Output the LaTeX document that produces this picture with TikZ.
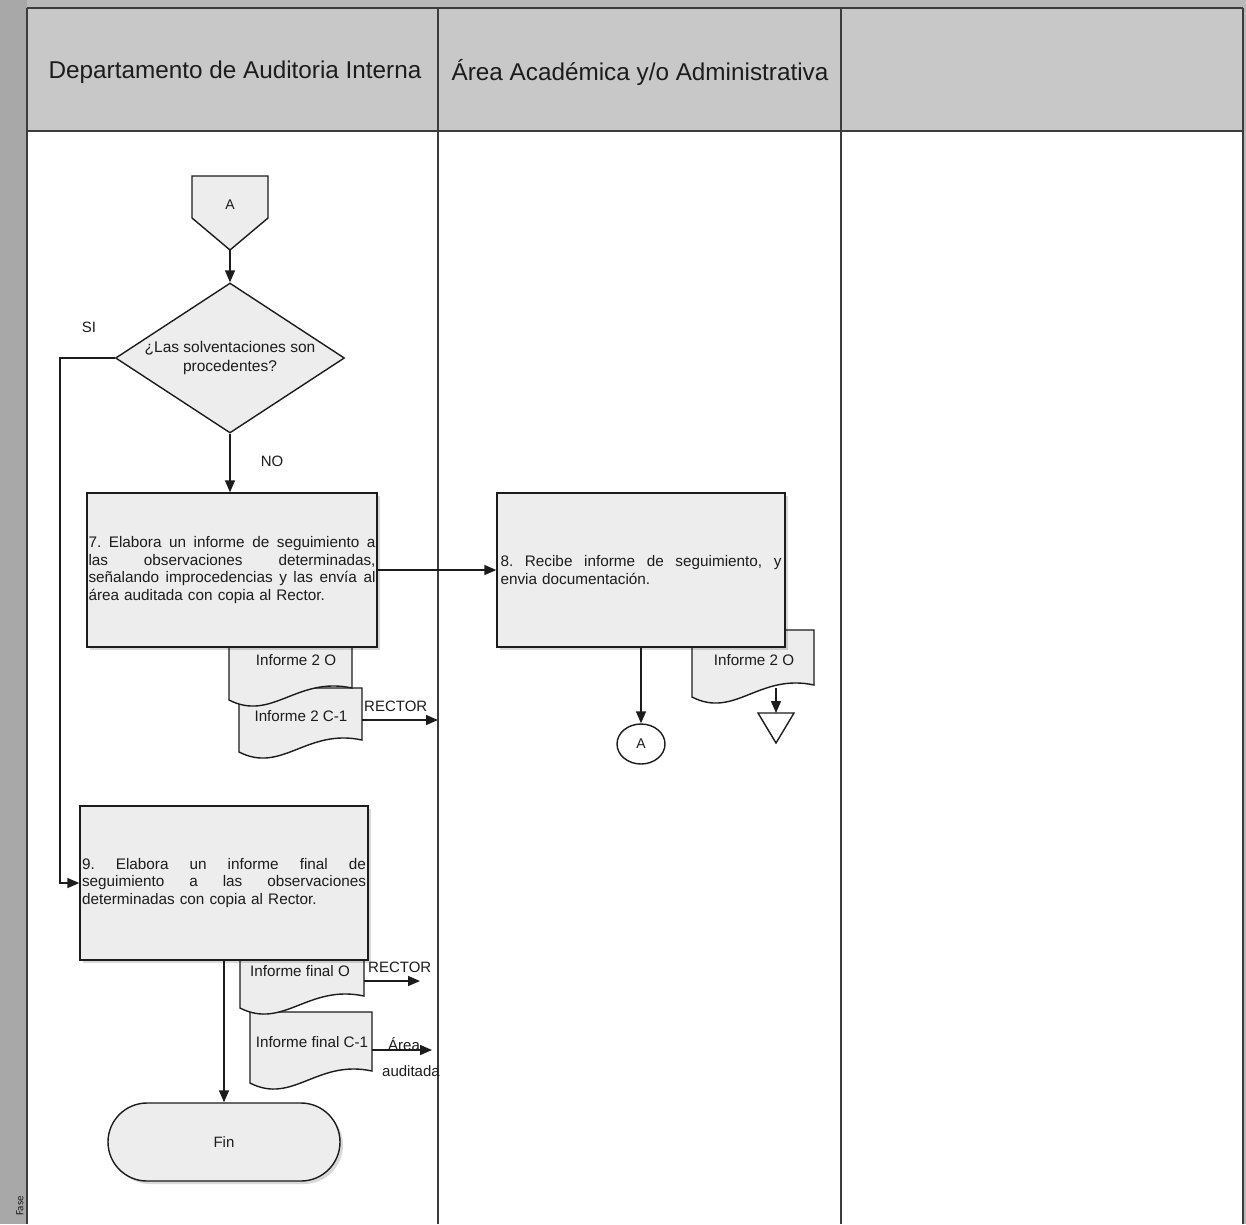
\documentclass[tikz,border=0pt]{standalone}
\usepackage{fontspec}
\setmainfont{Liberation Sans}
\newfontfamily\fasefont{Carlito}
\usetikzlibrary{arrows.meta,shapes.geometric,shadows}

\definecolor{hdrgray}{RGB}{201,200,200}
\definecolor{stripgray}{RGB}{168,168,168}
\definecolor{topgray}{RGB}{186,185,185}
\definecolor{shapefill}{RGB}{237,237,237}
\definecolor{ink}{RGB}{28,28,28}
\definecolor{gridink}{RGB}{60,60,60}

% one fully justified line of a step description, of the given width
\newcommand{\jline}[2]{\makebox[#1][s]{\spaceskip=0pt\xspaceskip=0pt\relax #2}}

% document symbol: flat top, wavy bottom (x1, x2, top, bottom at left end)
\newcommand{\docoutline}[4]{%
  \filldraw[docstyle] (#1,#3) -- (#2,#3) -- (#2,{#4-12})
    .. controls ({#1+0.55*(#2-#1)},{#4-24}) and ({#1+0.35*(#2-#1)},{#4+22}) .. (#1,#4) -- cycle;}

\tikzset{
  every node/.style={text=ink},
  outline/.style={draw=ink, line width=1.4pt},
  procbox/.style={outline, fill=shapefill, rectangle, inner sep=0pt,
    drop shadow={shadow xshift=3pt, shadow yshift=-3pt, fill=black, opacity=0.15}},
  docstyle/.style={draw=ink, line width=1.4pt, fill=shapefill},
  arr/.style={draw=ink, line width=1.5pt, -{Triangle[length=12pt,width=10pt]}},
  boxtext/.style={font=\fontsize{15.3}{17.6}\selectfont\frenchspacing, align=left},
  doctext/.style={font=\fontsize{15.2}{18}\selectfont, inner sep=0pt},
  lbl/.style={font=\fontsize{15}{18}\selectfont, inner sep=0pt},
  lanehead/.style={font=\fontsize{24.3}{28}\selectfont, inner sep=0pt},
}

\begin{document}
\begin{tikzpicture}[x=1pt,y=-1pt]
\useasboundingbox (0,0) rectangle (1246,1224);

% page and swimlane frame
\fill[white] (0,0) rectangle (1246,1224);
\fill[topgray] (0,0) rectangle (1246,8);
\fill[hdrgray] (27,8) rectangle (1243,131);
\fill[stripgray] (0,0) rectangle (27,1224);
\fill[topgray] (1243,0) rectangle (1246,1224);
\draw[gridink, line width=1.3pt] (27,8) -- (1243,8);
\draw[gridink, line width=1.3pt] (27,131) -- (1243,131);
\draw[gridink, line width=1.3pt] (27,8) -- (27,1224);
\draw[gridink, line width=1.2pt] (438,8) -- (438,1224);
\draw[gridink, line width=1.2pt] (841,8) -- (841,1224);
\draw[gridink, line width=1.3pt] (1243,8) -- (1243,1224);

\node[lanehead] (hdrA) at (235,72) {Departamento de Auditoria Interna};
\node[lanehead] (hdrB) at (640,72) {Área Académica y/o Administrativa};
\node[rotate=90, font=\fasefont\fontsize{11}{13}\selectfont, inner sep=0pt] (fase) at (20,1206) {Fase};

% off-page connector A
\coordinate (offAtip) at (230,250);
\filldraw[docstyle] (192,176) -- (268,176) -- (268,218) -- (offAtip) -- (192,218) -- cycle;
\node[font=\fontsize{14}{16}\selectfont] (offA) at (230,205) {A};

% decision
\node[diamond, draw=ink, line width=1.4pt, fill=shapefill, minimum width=229,
      minimum height=150, aspect=1.53, inner sep=0pt, align=center,
      font=\fontsize{15.5}{18.5}\selectfont] (dec) at (230,358)
      {¿Las solventaciones son\\procedentes?};
\node[lbl] (lblSI) at (89,327) {SI};
\node[lbl] (lblNO) at (272,461) {NO};

% documents issued with step 7
\docoutline{239}{362}{688}{752}
\node[doctext] (docB) at (301,716) {Informe 2 C-1};
\coordinate (docBe) at (362,720);
\docoutline{229}{352}{647}{700}
\node[doctext] (docA) at (296,660) {Informe 2 O};

% step 7
\node[procbox, boxtext, minimum width=290, minimum height=154, text width=287] (b7) at (232,570)
  {\jline{287pt}{7. Elabora un informe de seguimiento a}\\
   \jline{287pt}{las observaciones determinadas,}\\
   \jline{287pt}{señalando improcedencias y las envía al}\\
   área auditada con copia al Rector.};

% document received with step 8
\docoutline{692}{814}{630}{697}
\node[doctext] (docC) at (754,660) {Informe 2 O};
\coordinate (docCs) at (776,688);

% step 8
\node[procbox, boxtext, minimum width=288, minimum height=154, text width=281] (b8) at (641,570)
  {\jline{281pt}{8. Recibe informe de seguimiento, y}\\
   envia documentación.};

% archive symbol and on-page connector
\coordinate (archTop) at (776,713);
\filldraw[outline, fill=white] (758,713) -- (794,713) -- (776,743) -- cycle;
\node[ellipse, draw=ink, line width=1.4pt, fill=white, minimum width=48, minimum height=40,
      inner sep=0pt, font=\fontsize{14}{16}\selectfont] (conA) at (641,744) {A};

% documents issued with step 9
\docoutline{250}{372}{1012}{1083}
\node[doctext] (docE) at (312,1042) {Informe final C-1};
\coordinate (docEe) at (372,1050);
\docoutline{240}{364}{960}{1008}
\node[doctext] (docD) at (300,971) {Informe final O};
\coordinate (docDe) at (364,981);

% step 9
\node[procbox, boxtext, minimum width=288, minimum height=154, text width=284] (b9) at (224,883)
  {\jline{284pt}{9. Elabora un informe final de}\\
   \jline{284pt}{seguimiento a las observaciones}\\
   determinadas con copia al Rector.};

% end
\node[procbox, rounded corners=39pt, minimum width=232, minimum height=78,
      font=\fontsize{15}{18}\selectfont] (fin) at (224,1142) {Fin};

% connectors
\coordinate (siTurn) at (60,358);
\coordinate (rect1) at (438,720);
\coordinate (rect2) at (420,981);
\coordinate (area) at (432,1050);

\draw[arr] (offAtip) -- (dec.north);
\draw[arr] (dec.south) -- (dec.south |- b7.north);
\draw[arr] (dec.west) -- (siTurn) |- (b9.west);
\draw[arr] (b7.east) -- (b8.west);
\draw[arr] (b8.south) -- (conA.north);
\draw[arr] (docCs) -- (archTop);
\draw[arr] (docBe) -- (rect1);
\draw[arr] (docDe) -- (rect2);
\draw[arr] (docEe) -- (area);
\draw[arr] (b9.south) -- (fin.north);

\node[lbl, anchor=west] (lblR1) at (364,706) {RECTOR};
\node[lbl, anchor=west] (lblR2) at (368,967) {RECTOR};
\node[lbl] (lblArea) at (404,1044) {Área};
\node[lbl] (lblAud) at (411,1071) {auditada};

\end{tikzpicture}
\end{document}
